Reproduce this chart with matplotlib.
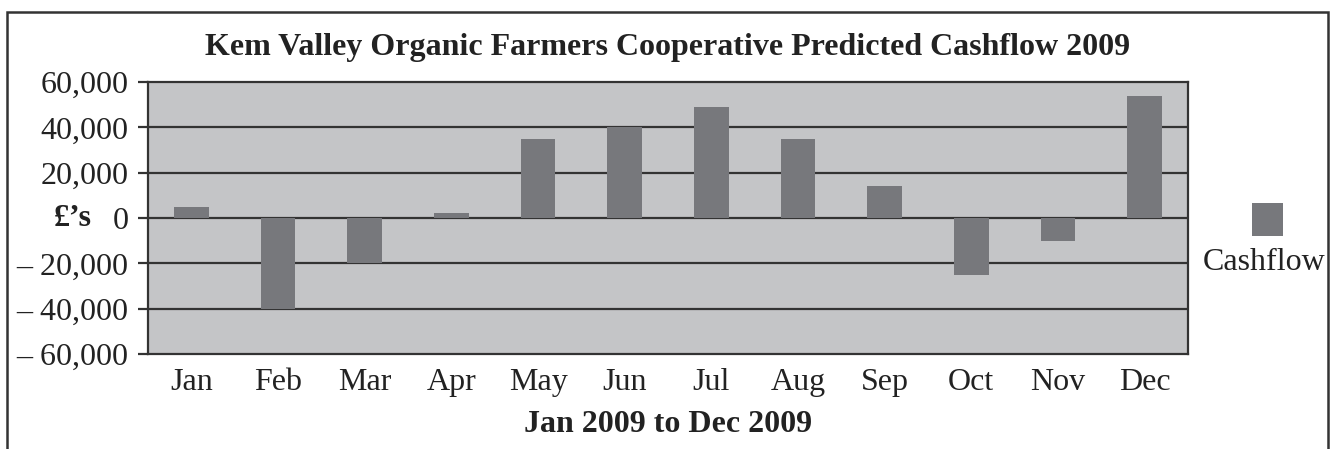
import matplotlib.pyplot as plt
from matplotlib.patches import Rectangle

months = ["Jan", "Feb", "Mar", "Apr", "May", "Jun", "Jul", "Aug", "Sep", "Oct", "Nov", "Dec"]
cashflow = [5000, -40000, -20000, 2000, 35000, 40000, 49000, 35000, 14000, -25000, -10000, 54000]
y_ticks = [-60000, -40000, -20000, 0, 20000, 40000, 60000]
y_labels = ["\u2013 60,000", "\u2013 40,000", "\u2013 20,000", "0", "20,000", "40,000", "60,000"]

plt.rcParams['font.family'] = ['Liberation Serif', 'DejaVu Serif']

W, H = 1335, 449
fs = 23
fig = plt.figure(figsize=(W / 100, H / 100), dpi=100)
fig.patch.set_facecolor('white')

# outer frame (bottom edge runs off the picture)
fig.add_artist(Rectangle((7 / W, -0.05), (1328 - 7) / W, 1.05 - 12 / H, transform=fig.transFigure,
                         fill=False, edgecolor='#333333', linewidth=1.8))

x0, x1, ytop, ybot = 148, 1188, 82, 354
ax = fig.add_axes([x0 / W, (H - ybot) / H, (x1 - x0) / W, (ybot - ytop) / H])
ax.set_facecolor('#c4c5c7')

for t in y_ticks[1:-1]:
    ax.axhline(t, color='#333333', linewidth=1.6, zorder=1)

xs = list(range(len(months)))
ax.bar(xs, cashflow, width=0.4, color='#77787c', zorder=2)

ax.set_xlim(-0.5, len(months) - 0.5)
ax.set_ylim(-60000, 60000)
ax.set_yticks(y_ticks)
ax.set_yticklabels(y_labels, fontsize=fs, color='#222222')
ax.set_xticks(xs)
ax.set_xticklabels(months, fontsize=fs, color='#222222')
ax.tick_params(axis='y', length=7, width=1.6, color='#333333', pad=7)
ax.tick_params(axis='x', length=0, pad=10)
for s in ax.spines.values():
    s.set_color('#333333')
    s.set_linewidth(1.6)

fig.text(92 / W, 1 - 218 / H, "\u00a3\u2019s", fontsize=fs, fontweight='bold',
         ha='right', va='center', color='#222222')

fig.text(0.5 * (205 + 1130) / W, 1 - 47 / H, "Kem Valley Organic Farmers Cooperative Predicted Cashflow 2009",
         fontsize=fs, fontweight='bold', ha='center', va='center', color='#222222')
fig.text((x0 + x1) / 2 / W, 1 - 424 / H, "Jan 2009 to Dec 2009", fontsize=fs, fontweight='bold',
         ha='center', va='center', color='#222222')

# legend
fig.add_artist(Rectangle((1252 / W, 1 - 236 / H), 31 / W, 33 / H, transform=fig.transFigure,
                         facecolor='#77787c', edgecolor='none'))
fig.text(1264 / W, 1 - 262 / H, "Cashflow", fontsize=fs, ha='center', va='center', color='#222222')

fig.savefig("out.png", dpi=100)
